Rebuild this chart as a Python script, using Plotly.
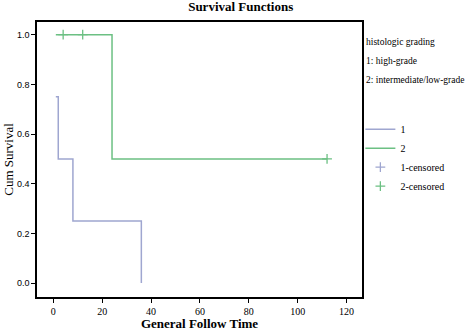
import plotly.graph_objects as go

# Group 1: high-grade (step curve)
g1_time = [1, 2, 8, 36, 36]
g1_surv = [0.75, 0.5, 0.25, 0.0, 0.0]
# Group 2: intermediate/low-grade
g2_time = [1, 24, 112]
g2_surv = [1.0, 0.5, 0.5]
# Censored points
g2_cens_time = [4, 12, 112]
g2_cens_surv = [1.0, 1.0, 0.5]

x_ticks = [0, 20, 40, 60, 80, 100, 120]
y_ticks = [0.0, 0.2, 0.4, 0.6, 0.8, 1.0]

c1 = "#9fa6d0"
c2 = "#6cc083"
serif = "Liberation Serif"
sans = "Liberation Sans"

fig = go.Figure()
fig.add_trace(go.Scatter(x=g1_time, y=g1_surv, mode="lines", line=dict(color=c1, width=1.5, shape="hv"),
                         name="1"))
fig.add_trace(go.Scatter(x=g2_time, y=g2_surv, mode="lines", line=dict(color=c2, width=1.5, shape="hv"),
                         name="2"))
fig.add_trace(go.Scatter(x=[None], y=[None], mode="markers",
                         marker=dict(symbol="cross-thin", size=7, line=dict(color=c1, width=1.3)),
                         name="1-censored"))
fig.add_trace(go.Scatter(x=g2_cens_time, y=g2_cens_surv, mode="markers",
                         marker=dict(symbol="cross-thin", size=7, line=dict(color=c2, width=1.3)),
                         name="2-censored"))

fig.update_layout(
    width=472, height=331,
    margin=dict(l=37, r=110, t=22, b=34, autoexpand=False),
    paper_bgcolor="white", plot_bgcolor="white",
    font=dict(family=serif, size=10, color="black"),
    title=dict(text="<b>Survival Functions</b>", x=0.51, xanchor="center", y=0.995, yanchor="top",
               font=dict(size=13, family=serif)),
    showlegend=True,
    legend=dict(x=0.995, xanchor="left", y=0.663, yanchor="top", bgcolor="rgba(0,0,0,0)",
                font=dict(size=10, family=serif), tracegroupgap=0, itemwidth=30),
    xaxis=dict(range=[-6.7, 126.3], tickvals=x_ticks, ticks="outside", ticklen=4, tickcolor="black",
               tickfont=dict(family=serif, size=10), automargin=False,
               showgrid=False, zeroline=False, showline=True, linecolor="black", linewidth=1.5, mirror=True,
               title=dict(text="<b>General Follow Time</b>", font=dict(size=13, family=serif), standoff=4)),
    yaxis=dict(range=[-0.056, 1.051], tickvals=y_ticks, tickformat=".1f", ticks="outside", ticklen=4,
               tickfont=dict(family=sans, size=9), automargin=False,
               tickcolor="black", showgrid=False, zeroline=False, showline=True, linecolor="black",
               linewidth=1.5, mirror=True,
               title=dict(text="Cum Survival", font=dict(size=13, family=serif), standoff=0)),
)

header = ["histologic grading", "1: high-grade", "2: intermediate/low-grade"]
header_y = [0.927, 0.858, 0.789]
for t, yy in zip(header, header_y):
    fig.add_annotation(text=t, xref="paper", yref="paper", x=1.006, y=yy, xanchor="left", yanchor="middle",
                       showarrow=False, font=dict(size=9.5, family=serif))

fig.write_html("out.html", config={"displayModeBar": False},
               post_script="document.body.style.margin='0';document.body.style.overflow='hidden';")
